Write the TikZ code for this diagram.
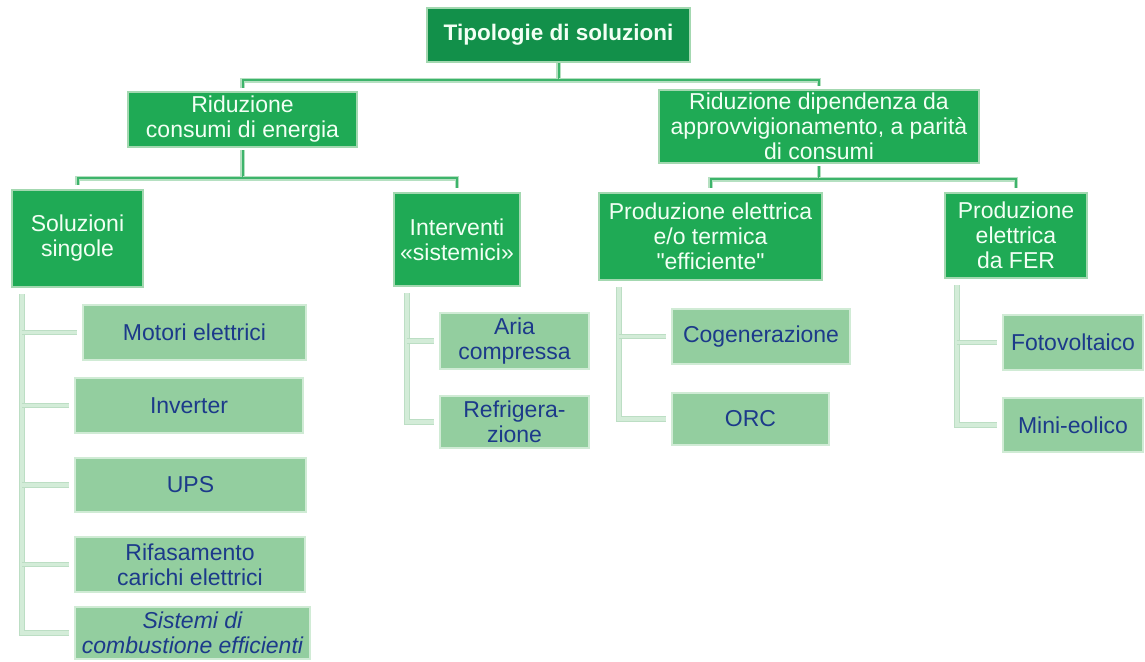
\documentclass[tikz,border=0pt]{standalone}
\usepackage{fontspec}
\setmainfont{Liberation Sans}[Ligatures=TeXOff]
\definecolor{topg}{HTML}{12904A}
\definecolor{darkg}{HTML}{1FAA55}
\definecolor{darkedge}{HTML}{A3D8B0}
\definecolor{lightg}{HTML}{93CE9F}
\definecolor{lightedge}{HTML}{D0EBD5}
\definecolor{bluetxt}{HTML}{1C3A8A}
\definecolor{wtxt}{HTML}{F2FFF4}
\definecolor{busg}{HTML}{3DB46B}
\definecolor{busedge}{HTML}{B5E0C1}
\definecolor{barg}{HTML}{D3ECD8}
\definecolor{baredge}{HTML}{BCDEC4}
\begin{document}
\begin{tikzpicture}[x=1pt,y=-1pt,
  txt/.style={font=\fontsize{23}{25}\selectfont, align=center, inner sep=0pt},
  darkbox/.style={txt, rectangle, fill=darkg, draw=darkedge, line width=2.2pt, text=wtxt},
  topbox/.style={darkbox, fill=topg, font=\fontsize{22.5}{25}\selectfont\bfseries},
  lightbox/.style={txt, rectangle, fill=lightg, draw=lightedge, line width=2.2pt, text=bluetxt},
  bus/.style={draw=busedge, double=busg, double distance=2pt, line width=1.4pt},
  bar/.style={draw=baredge, double=barg, double distance=3.5pt, line width=1pt},
  stub/.style={bar, shorten >=5pt}
]
\useasboundingbox (0,0) rectangle (1145,661);
% level 0
\node[topbox, minimum width=263, minimum height=54] (top) at (558.5,35) {Tipologie di soluzioni};
% level 1
\node[darkbox, minimum width=229, minimum height=55] (rc) at (242.5,119.5) {Riduzione\\consumi di energia};
\node[darkbox, minimum width=320, minimum height=73] (rd) at (819,126.5) {Riduzione dipendenza da\\approvvigionamento, a parità\\di consumi};
% level 2
\node[darkbox, minimum width=131, minimum height=97] (ss) at (77.5,238.5) {Soluzioni\\singole};
\node[darkbox, minimum width=126, minimum height=93] (is) at (457,239.5) {Interventi\\«sistemici»};
\node[darkbox, minimum width=223, minimum height=87] (pe) at (710.5,236.5) {Produzione elettrica\\e/o termica\\"efficiente"};
\node[darkbox, minimum width=142, minimum height=85] (pf) at (1016,235.5) {Produzione\\elettrica\\da FER};
% level 3
\node[lightbox, minimum width=223, minimum height=55] (mo) at (194.5,332.5) {Motori elettrici};
\node[lightbox, minimum width=228, minimum height=55] (inv) at (189,405.5) {Inverter};
\node[lightbox, minimum width=231, minimum height=54] (ups) at (190.5,485) {UPS};
\node[lightbox, minimum width=230, minimum height=55] (rif) at (190,564.5) {Rifasamento\\carichi elettrici};
\node[lightbox, minimum width=235, minimum height=52] (sis) at (192.5,633) {\itshape Sistemi di\\\itshape combustione efficienti};
\node[lightbox, minimum width=149, minimum height=56] (aria) at (514.5,341) {Aria\\compressa};
\node[lightbox, minimum width=149, minimum height=52] (refr) at (514.5,422) {Refrigera-\\zione};
\node[lightbox, minimum width=178, minimum height=55] (cog) at (761,336.5) {Cogenerazione};
\node[lightbox, minimum width=157, minimum height=52] (orc) at (750.5,419) {ORC};
\node[lightbox, minimum width=140, minimum height=55] (fot) at (1073,342.5) {Fotovoltaico};
\node[lightbox, minimum width=140, minimum height=54] (mini) at (1073,425) {Mini-eolico};
% bus connectors
\coordinate (j0) at ([yshift=-17]top.south);
\coordinate (j1) at ([yshift=-30]rc.south);
\coordinate (j2) at ([yshift=-15]rd.south);
\draw[bus] (top.south) -- (j0) -| ([yshift=3]rc.north);
\draw[bus] (j0) -| ([yshift=3]rd.north);
\draw[bus] ([yshift=-2]rc.south) -- (j1) -| ([yshift=4]ss.north);
\draw[bus] (j1) -| ([yshift=4]is.north);
\draw[bus] ([yshift=-2]rd.south) -- (j2) -| ([yshift=4]pe.north);
\draw[bus] (j2) -| ([yshift=4]pf.north);
% child bars
\coordinate (bss) at ([xshift=11,yshift=-6]ss.south west);
\coordinate (bis) at ([xshift=14,yshift=-6]is.south west);
\coordinate (bpe) at ([xshift=21,yshift=-6]pe.south west);
\coordinate (bpf) at ([xshift=13,yshift=-6]pf.south west);
\draw[stub] (bss) |- (sis.west);
\draw[stub] (bss |- mo.west) -- (mo.west);
\draw[stub] (bss |- inv.west) -- (inv.west);
\draw[stub] (bss |- ups.west) -- (ups.west);
\draw[stub] (bss |- rif.west) -- (rif.west);
\draw[stub] (bis) |- (refr.west);
\draw[stub] (bis |- aria.west) -- (aria.west);
\draw[stub] (bpe) |- (orc.west);
\draw[stub] (bpe |- cog.west) -- (cog.west);
\draw[stub] (bpf) |- (mini.west);
\draw[stub] (bpf |- fot.west) -- (fot.west);
\end{tikzpicture}
\end{document}
